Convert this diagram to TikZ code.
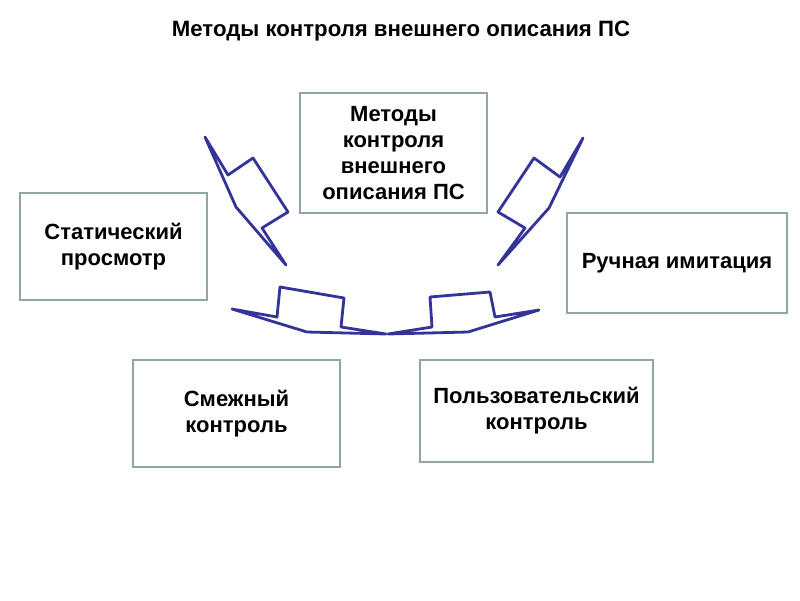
\documentclass[tikz,border=0pt]{standalone}
\usepackage{fontspec}
\setmainfont{Liberation Sans}
\definecolor{boxline}{HTML}{8FA6A6}
\definecolor{bolt}{HTML}{33339A}
\begin{document}
\begin{tikzpicture}[x=1pt,y=-1pt,
  box/.style={draw=boxline,line width=2.2pt,fill=white,align=center,font=\fontsize{22}{26}\selectfont\bfseries,inner sep=0pt},
  boltline/.style={draw=bolt,line width=2.8pt,line join=round}]
\useasboundingbox (0,0) rectangle (800,600);
\node[font=\fontsize{22.2}{24}\selectfont\bfseries] (title) at (401,31) {Методы контроля внешнего описания ПС};
% boxes
\node[box,minimum width=187pt,minimum height=120pt] (top) at (393.5,153) {Методы\\контроля\\внешнего\\описания ПС};
\node[box,minimum width=187pt,minimum height=107pt] (stat) at (113.5,246.5) {Статический\\просмотр};
\node[box,minimum width=220pt,minimum height=100pt] (man) at (677,263) {Ручная имитация};
\node[box,minimum width=207pt,minimum height=107pt] (adj) at (236.5,413.5) {Смежный\\контроль};
\node[box,minimum width=233pt,minimum height=102pt] (usr) at (536.5,411) {Пользовательский\\контроль};
% bolts
\draw[boltline] (205,137) -- (228,175) -- (253,158) -- (288,212) -- (262,228) -- (286,265) -- (236,207) -- cycle;
\draw[boltline] (583,138) -- (560,177) -- (534,158) -- (498,212) -- (525,228) -- (498,265) -- (549,208) -- cycle;
\draw[boltline] (232,309) -- (277,317) -- (280,287) -- (344,298) -- (341,327) -- (386,334) -- (307,332) -- cycle;
\draw[boltline] (539,310) -- (495,317) -- (490,292) -- (430,297) -- (432,327) -- (388,334) -- (468,332) -- cycle;
\end{tikzpicture}
\end{document}
